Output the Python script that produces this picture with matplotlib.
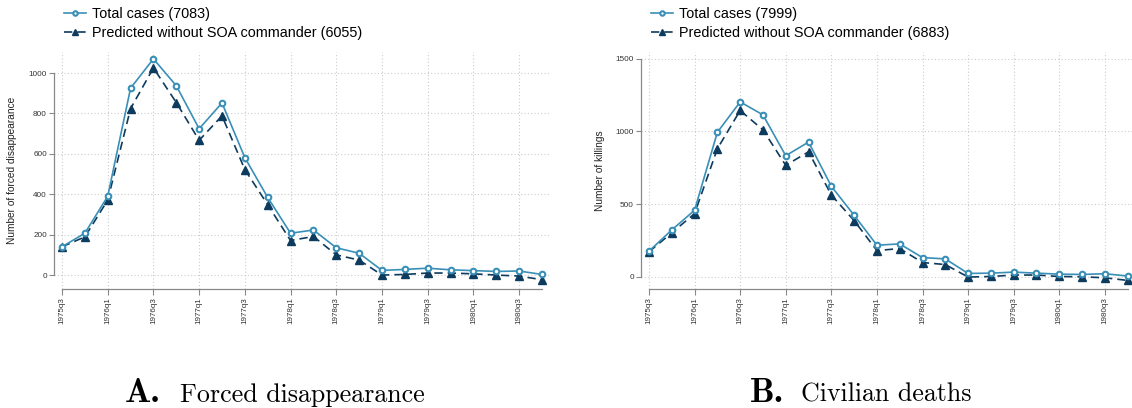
import matplotlib
matplotlib.use("Agg")
import matplotlib.pyplot as plt

# quarters 1975q3 .. 1980q4
quarters = ["1975q3", "1975q4", "1976q1", "1976q2", "1976q3", "1976q4",
            "1977q1", "1977q2", "1977q3", "1977q4", "1978q1", "1978q2",
            "1978q3", "1978q4", "1979q1", "1979q2", "1979q3", "1979q4",
            "1980q1", "1980q2", "1980q3", "1980q4"]
tick_labels = quarters[::2]

# Panel A: forced disappearance
disap_total = [140, 207, 390, 925, 1070, 937, 724, 852, 581, 384, 207,
               223, 135, 108, 23, 28, 34, 26, 22, 18, 20, 3]
disap_pred = [140, 189, 371, 824, 1025, 854, 667, 788, 522, 348, 171,
              191, 100, 74, 0, 3, 10, 10, 6, 0, -5, -23]

# Panel B: civilian deaths
kill_total = [176, 322, 457, 993, 1202, 1113, 832, 926, 622, 423, 217,
              226, 132, 123, 23, 25, 32, 25, 18, 16, 21, 5]
kill_pred = [172, 302, 434, 880, 1143, 1010, 766, 859, 562, 386, 180,
             194, 98, 84, -2, 2, 12, 12, 2, 0, -7, -25]

W, H = 1132, 408
C_TOTAL = "#3a8fb7"
C_PRED = "#0d3b5e"
SANS = ["Liberation Sans", "DejaVu Sans"]


def px_axes(fig, left, top, right, bottom):
    return fig.add_axes([left / W, (H - bottom) / H, (right - left) / W, (bottom - top) / H])


def panel(ax, total, pred, n_total, n_pred, ylabel, yticks, ylim, xlim, leg_x):
    x = list(range(len(quarters)))
    ax.plot(x, total, color=C_TOTAL, lw=1.2, marker="o", ms=4.0,
            mfc="white", mec=C_TOTAL, mew=1.5,
            label=f"Total cases ({n_total})", zorder=3)
    ax.plot(x, pred, color=C_PRED, lw=1.2, ls=(0, (5, 3)), marker="^", ms=5.5,
            mfc=C_PRED, mec=C_PRED, label=f"Predicted without SOA commander ({n_pred})",
            zorder=2)
    ax.set_xlim(*xlim)
    ax.set_ylim(*ylim)
    ax.set_xticks(x[::2])
    ax.set_xticklabels(tick_labels, rotation=90, fontsize=5.8, family=SANS, color="#333333")
    ax.set_yticks(yticks)
    ax.set_yticklabels([str(v) for v in yticks], fontsize=5.9, family=SANS, color="#333333")
    ax.tick_params(axis="x", length=4.3, width=0.8, color="#888888", pad=1.5)
    ax.tick_params(axis="y", length=3.6, width=0.8, color="#888888", pad=1.5)
    for s in ("top", "right"):
        ax.spines[s].set_visible(False)
    for s in ("left", "bottom"):
        ax.spines[s].set_color("#888888")
        ax.spines[s].set_linewidth(0.9)
    ax.spines["left"].set_bounds(yticks[0], yticks[-1])
    ax.spines["bottom"].set_bounds(0, len(quarters) - 1)
    ax.grid(True, color="#cccccc", lw=0.8, ls=(0, (1, 2)))
    ax.set_axisbelow(True)
    ax.set_ylabel(ylabel, fontsize=7.3, family=SANS, color="#222222")
    ax.yaxis.set_label_coords(-0.074, 0.5)
    ax.legend(loc="upper left", bbox_to_anchor=(leg_x / W, 1 - 7 / H),
              bbox_transform=ax.figure.transFigure, frameon=False,
              prop={"family": SANS, "size": 10.4}, handlelength=1.55,
              handletextpad=0.42, labelspacing=0.32, borderpad=0, borderaxespad=0,
              markerscale=0.8)


fig = plt.figure(figsize=(W / 100, H / 100), dpi=100)

axA = px_axes(fig, 54, 52, 550, 289)
panel(axA, disap_total, disap_pred, 7083, 6055, "Number of forced disappearance",
      [0, 200, 400, 600, 800, 1000], (-69, 1104), (-0.35, 21.35), 64)

axB = px_axes(fig, 641, 52, 1132, 289)
panel(axB, kill_total, kill_pred, 7999, 6883, "Number of killings",
      [0, 500, 1000, 1500], (-84, 1545), (-0.35, 21.19), 651)

# panel captions
base_y = (H - 402) / H
fig.text(125 / W, base_y, "A.", family="cmb10", fontsize=25, va="baseline")
fig.text(180 / W, base_y, "Forced disappearance", family="cmr10", fontsize=18.7, va="baseline")
fig.text(750 / W, base_y, "B.", family="cmb10", fontsize=25, va="baseline")
fig.text(801 / W, base_y, "Civilian deaths", family="cmr10", fontsize=18.7, va="baseline")

fig.savefig("out.png", dpi=100)
